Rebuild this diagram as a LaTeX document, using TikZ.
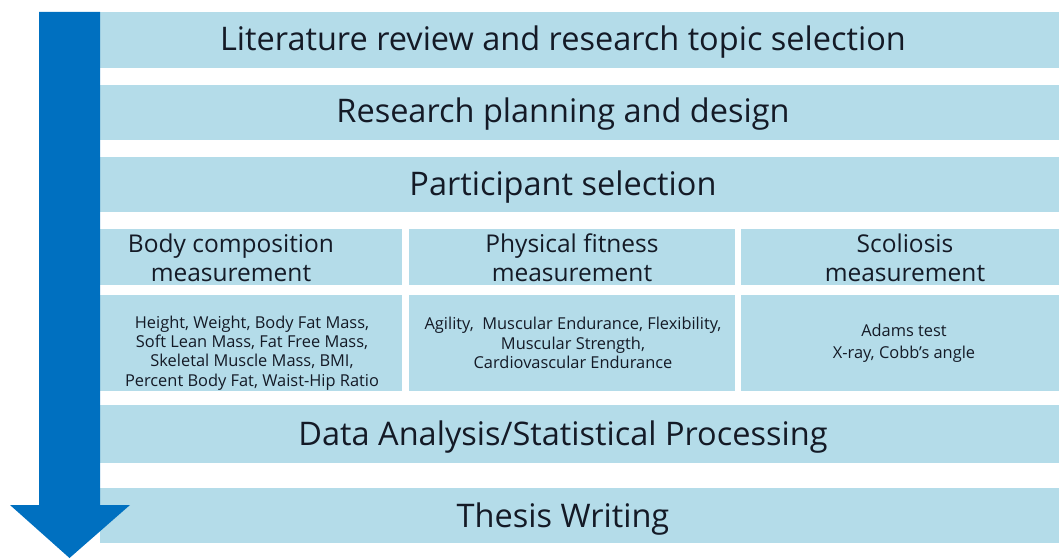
\documentclass[tikz,border=0pt]{standalone}
\usepackage{fontspec}
\setmainfont{Open Sans}
\definecolor{bandblue}{HTML}{B4DCE9}
\definecolor{flowblue}{HTML}{0070C0}
\definecolor{ink}{HTML}{141A26}
\begin{document}
\begin{tikzpicture}[x=1pt,y=-1pt,
  band/.style={fill=bandblue},
  title/.style={text=ink,font=\fontsize{32.5}{36}\selectfont,inner sep=0pt},
  head/.style={text=ink,font=\fontsize{24.5}{29}\selectfont,align=center,inner sep=0pt},
  detail/.style={text=ink,font=\fontsize{16.4}{19.3}\selectfont,align=center,inner sep=0pt}]
\useasboundingbox (0,0) rectangle (1059,559);
% full-width stage bands
\path[band] (100,12) rectangle (1059,68);
\path[band] (100,85) rectangle (1059,140);
\path[band] (100,157) rectangle (1059,212);
\path[band] (100,405) rectangle (1059,463);
\path[band] (100,488) rectangle (1059,543);
% measurement columns
\path[band] (100,229) rectangle (402,285);
\path[band] (409,229) rectangle (735,285);
\path[band] (741,229) rectangle (1059,285);
\path[band] (100,295) rectangle (402,391);
\path[band] (409,295) rectangle (735,391);
\path[band] (741,295) rectangle (1059,391);
% stage titles
\node[title] (lit) at (563,42) {Literature review and research topic selection};
\node[title] (plan) at (563,114) {Research planning and design};
\node[title] (part) at (563,187) {Participant selection};
\node[title] (data) at (563,437) {Data Analysis/Statistical Processing};
\node[title] (thesis) at (563,519) {Thesis Writing};
% measurement headings
\node[head] (bodyh) at (231,258) {Body composition\\measurement};
\node[head] (fith) at (572,258) {Physical fitness\\measurement};
\node[head] (scolh) at (905,258) {Scoliosis\\measurement};
% measurement items
\node[detail] (bodyd) at (252,353) {Height, Weight, Body Fat Mass,\\Soft Lean Mass, Fat Free Mass,\\Skeletal Muscle Mass, BMI,\\Percent Body Fat, Waist-Hip Ratio};
\node[detail] (fitd) at (573,343) {Agility,\ \ Muscular Endurance, Flexibility,\\Muscular Strength,\\Cardiovascular Endurance};
\node[detail,font=\fontsize{16.4}{22}\selectfont] (scold) at (904,343) {Adams test\\X-ray, Cobb’s angle};
% process arrow
\fill[flowblue] (39,12) -- (100,12) -- (100,505) -- (130,505) -- (69.5,558) -- (10,505) -- (39,505) -- cycle;
\end{tikzpicture}
\end{document}
